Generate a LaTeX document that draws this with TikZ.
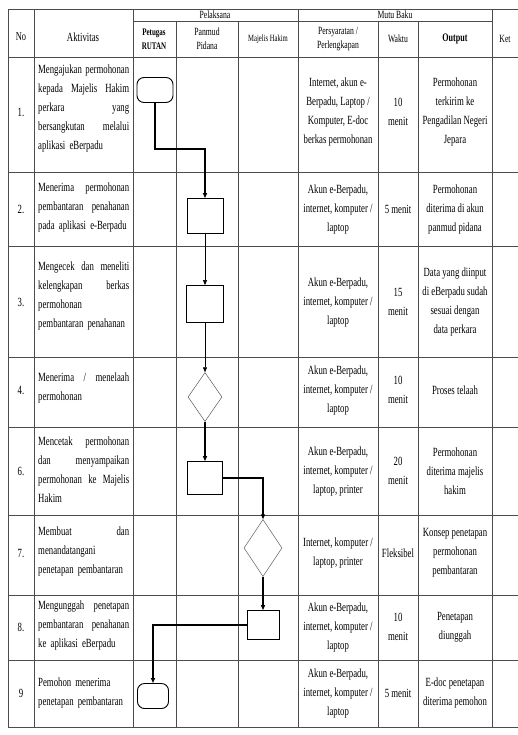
\documentclass[tikz,border=0pt]{standalone}
\usepackage{fontspec}
\setmainfont{Liberation Serif}[FakeStretch=0.7]
\usetikzlibrary{shapes.geometric,arrows.meta}
\newcommand{\jl}[1]{\makebox[91pt][s]{\spaceskip=0pt\xspaceskip=0pt\relax #1}}

\begin{document}
\begin{tikzpicture}[x=1pt,y=-1pt,
    garis/.style ={draw=black!70, line width=0.7pt},
    judul/.style ={font=\fontsize{11}{14}\selectfont, align=center, inner sep=0pt},
    isi/.style ={font=\fontsize{12.5}{19}\selectfont, align=center, inner sep=0pt},
    akt/.style ={font=\fontsize{12.5}{19}\selectfont, align=left, text width=91pt, anchor=west, inner sep=0pt},
    proses/.style ={rectangle, draw, line width=0.8pt, inner sep=0pt},
    terminal/.style ={rectangle, rounded corners=7pt, draw, line width=0.9pt, inner sep=0pt},
    keputusan/.style ={diamond, draw=black!65, line width=0.5pt, inner sep=0pt},
    panah/.style ={-{Triangle[length=5pt,width=4pt]}, line width=1.2pt},
    panahtipis/.style ={-{Triangle[length=5pt,width=4pt]}, line width=0.5pt}]
   \useasboundingbox (0,0) rectangle (518,735);

   % tabel
   \draw[garis] (8,9) -- (518,9);
   \draw[garis] (133,21) -- (492,21);
   \draw[garis] (8,57) -- (518,57);
   \draw[garis] (8,172) -- (518,172);
   \draw[garis] (8,246) -- (518,246);
   \draw[garis] (8,357) -- (518,357);
   \draw[garis] (8,427) -- (518,427);
   \draw[garis] (8,515) -- (518,515);
   \draw[garis] (8,595) -- (518,595);
   \draw[garis] (8,660) -- (518,660);
   \draw[garis] (8,727) -- (518,727);
   \draw[garis] (8,9) -- (8,727);
   \draw[garis] (34,9) -- (34,727);
   \draw[garis] (133,9) -- (133,727);
   \draw[garis] (176,21) -- (176,727);
   \draw[garis] (238,21) -- (238,727);
   \draw[garis] (298,9) -- (298,727);
   \draw[garis] (378,21) -- (378,727);
   \draw[garis] (418,21) -- (418,727);
   \draw[garis] (492,9) -- (492,727);

   % kepala tabel
   \node[judul, font=\fontsize{12}{14}\selectfont] (hNo) at (21,37) {No};
   \node[judul, font=\fontsize{12.5}{14}\selectfont] (hAkt) at (83,37) {Aktivitas};
   \node[judul] (hPel) at (215,15) {Pelaksana};
   \node[judul] (hMutu) at (395,15) {Mutu Baku};
   \node[judul, font=\fontsize{10}{14}\selectfont\bfseries] (hRutan) at (154,39) {Petugas\\RUTAN};
   \node[judul] (hPanmud) at (207,39) {Panmud\\Pidana};
   \node[judul, font=\fontsize{9.5}{14}\selectfont] (hHakim) at (268,39) {Majelis Hakim};
   \node[judul] (hSyarat) at (338,39) {Persyaratan /\\Perlengkapan};
   \node[judul] (hWaktu) at (398,39) {Waktu};
   \node[judul, font=\fontsize{11.5}{14}\selectfont\bfseries] (hOutput) at (455,39) {Output};
   \node[judul] (hKet) at (505,39) {Ket};

   % nomor
   \node[isi] (n1) at (21,112) {1.};
   \node[isi] (n2) at (21,209) {2.};
   \node[isi] (n3) at (21,302) {3.};
   \node[isi] (n4) at (21,390) {4.};
   \node[isi] (n6) at (21,471) {6.};
   \node[isi] (n7) at (21,553) {7.};
   \node[isi] (n8) at (21,627) {8.};
   \node[isi] (n9) at (21,693) {9};

   % aktivitas
   \node[akt] (a1) at (38,108) {\jl{Mengajukan permohonan}\\\jl{kepada Majelis Hakim}\\\jl{perkara yang}\\\jl{bersangkutan melalui}\\aplikasi eBerpadu};
   \node[akt] (a2) at (38,207) {\jl{Menerima permohonan}\\\jl{pembantaran penahanan}\\pada aplikasi e-Berpadu};
   \node[akt] (a3) at (38,296) {\jl{Mengecek dan meneliti}\\\jl{kelengkapan berkas}\\permohonan\\pembantaran penahanan};
   \node[akt] (a4) at (38,388) {\jl{Menerima / menelaah}\\permohonan};
   \node[akt] (a6) at (38,470) {\jl{Mencetak permohonan}\\\jl{dan menyampaikan}\\\jl{permohonan ke Majelis}\\Hakim};
   \node[akt] (a7) at (38,551) {\jl{Membuat dan}\\menandatangani\\penetapan pembantaran};
   \node[akt] (a8) at (38,625) {\jl{Mengunggah penetapan}\\\jl{pembantaran penahanan}\\ke aplikasi eBerpadu};
   \node[akt] (a9) at (38,693) {Pemohon menerima\\penetapan pembantaran};

   % persyaratan
   \node[isi] (s1) at (338,112) {Internet, akun e-\\Berpadu, Laptop /\\Komputer, E-doc\\berkas permohonan};
   \node[isi] (s2) at (338,209) {Akun e-Berpadu,\\internet, komputer /\\laptop};
   \node[isi] (s3) at (338,302) {Akun e-Berpadu,\\internet, komputer /\\laptop};
   \node[isi] (s4) at (338,390) {Akun e-Berpadu,\\internet, komputer /\\laptop};
   \node[isi] (s6) at (338,471) {Akun e-Berpadu,\\internet, komputer /\\laptop, printer};
   \node[isi] (s7) at (338,553) {Internet, komputer /\\laptop, printer};
   \node[isi] (s8) at (338,627) {Akun e-Berpadu,\\internet, komputer /\\laptop};
   \node[isi] (s9) at (338,693) {Akun e-Berpadu,\\internet, komputer /\\laptop};

   % waktu
   \node[isi] (w1) at (398,112) {10\\menit};
   \node[isi] (w2) at (398,209) {5 menit};
   \node[isi] (w3) at (398,302) {15\\menit};
   \node[isi] (w4) at (398,390) {10\\menit};
   \node[isi] (w6) at (398,471) {20\\menit};
   \node[isi] (w7) at (398,553) {Fleksibel};
   \node[isi] (w8) at (398,627) {10\\menit};
   \node[isi] (w9) at (398,693) {5 menit};

   % output
   \node[isi] (o1) at (455,112) {Permohonan\\terkirim ke\\Pengadilan Negeri\\Jepara};
   \node[isi] (o2) at (455,209) {Permohonan\\diterima di akun\\panmud pidana};
   \node[isi] (o3) at (455,302) {Data yang diinput\\di eBerpadu sudah\\sesuai dengan\\data perkara};
   \node[isi] (o4) at (455,390) {Proses telaah};
   \node[isi] (o6) at (455,471) {Permohonan\\diterima majelis\\hakim};
   \node[isi] (o7) at (455,553) {Konsep penetapan\\permohonan\\pembantaran};
   \node[isi] (o8) at (455,627) {Penetapan\\diunggah};
   \node[isi] (o9) at (455,693) {E-doc penetapan\\diterima pemohon};

   % bagan alir
   \node[terminal, minimum width=36pt, minimum height=25pt] (t1) at (155,90) {};
   \node[proses, minimum width=36pt, minimum height=35pt] (r2) at (205,216) {};
   \node[proses, minimum width=37pt, minimum height=37pt] (r3) at (205,304) {};
   \node[keputusan, minimum width=34pt, minimum height=49pt] (d4) at (205,397) {};
   \node[proses, minimum width=35pt, minimum height=33pt] (r5) at (205,478) {};
   \node[keputusan, minimum width=38pt, minimum height=57pt] (d7) at (263,548) {};
   \node[proses, minimum width=32pt, minimum height=29pt] (r8) at (263,625) {};
   \node[terminal, minimum width=31pt, minimum height=25pt] (t9) at (153,696) {};

   \draw[panah] (t1.south) -- ++(0,46) -| (r2.north);
   \draw[panahtipis] (r2) to (r3);
   \draw[panahtipis] (r3) to (d4);
   \draw[panah] (d4) to (r5);
   \draw[panah] (r5.east) -| (d7.north);
   \draw[panah] (d7) to (r8);
   \draw[panah] (r8.west) -| (t9.north);
 \end{tikzpicture}
\end{document}
